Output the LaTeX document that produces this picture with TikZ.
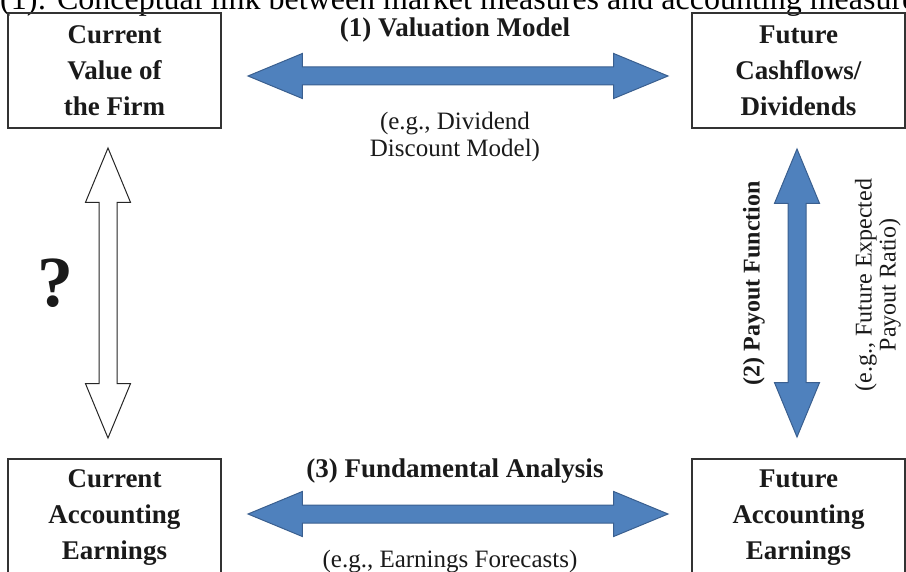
\documentclass[tikz,border=0pt]{standalone}
\usepackage{fontspec}
\setmainfont{Liberation Serif}
\usetikzlibrary{shapes.arrows}
\definecolor{arrblue}{HTML}{4F81BD}
\definecolor{arrline}{HTML}{3A5F8F}
\definecolor{ink}{HTML}{1A1A1A}
\newcommand{\shaft}{\rule{0pt}{17pt}}

\begin{document}
\begin{tikzpicture}[x=1pt,y=-1pt,
        box/.style={draw=black!80, line width=1.2pt, minimum width=213pt, minimum height=115pt,
                    align=center, inner sep=0pt, text=ink, font=\fontsize{27}{36}\selectfont\bfseries},
        dblarr/.style={double arrow, inner sep=0pt, double arrow head extend=13.5pt,
                       double arrow tip angle=45, line width=1pt},
        bluearr/.style={dblarr, fill=arrblue, draw=arrline},
        whitearr/.style={dblarr, fill=white, draw=black!85},
        headlab/.style={inner sep=0pt, text=ink, font=\fontsize{27}{32}\selectfont\bfseries},
        notelab/.style={inner sep=0pt, align=center, text=ink, font=\fontsize{25}{27}\selectfont}]
        \useasboundingbox (0,0) rectangle (906,572);
        \clip (0,0) rectangle (906,572);
        \node[inner sep=0pt, anchor=base west, font=\fontsize{32}{34}\selectfont] (caption) at (0,10)
            {(1): Conceptual link between market measures and accounting measures};
        \node[box] (firm) at (114.5,70.5) {Current\\Value of\\the Firm};
        \node[box] (cash) at (798.5,70.5) {Future\\Cashflows/\\Dividends};
        \node[box, minimum height=118pt] (curearn) at (114.5,518) {Current\\Accounting\\Earnings};
        \node[box, minimum height=118pt] (futearn) at (798.5,518) {Future\\Accounting\\Earnings};
        \node[bluearr, minimum height=420pt] (valarr) at (458,76) {\shaft};
        \node[bluearr, minimum height=420pt] (fundarr) at (458,514) {\shaft};
        \node[bluearr, minimum height=288pt, rotate=90] (payarr) at (797,293) {\shaft};
        \node[whitearr, minimum height=290pt, rotate=90] (qarr) at (108,293) {\shaft};
        \node[headlab, anchor=base] (valtxt) at (455,37) {(1) Valuation Model};
        \node[notelab] (valnote) at (455,137) {(e.g., Dividend\\Discount Model)};
        \node[headlab, anchor=base] (fundtxt) at (455,477) {(3) Fundamental Analysis};
        \node[notelab, anchor=base] (fundnote) at (450,567) {(e.g., Earnings Forecasts)};
        \node[headlab, rotate=90, font=\fontsize{24}{28}\selectfont\bfseries] (paytxt) at (754,283) {(2) Payout Function};
        \node[notelab, rotate=90, font=\fontsize{24}{24}\selectfont] (paynote) at (878,285) {(e.g., Future Expected\\Payout Ratio)};
        \node[inner sep=0pt, text=ink, font=\fontsize{72}{72}\selectfont\bfseries] (qmark) at (55,283) {?};
\end{tikzpicture}
\end{document}
